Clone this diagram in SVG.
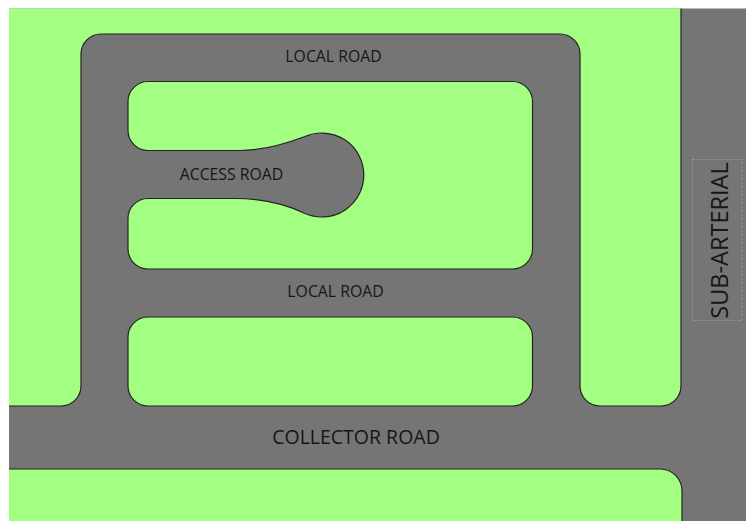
<svg xmlns="http://www.w3.org/2000/svg" width="746" height="521" viewBox="0 0 746 521">
<style>
.block{fill:#a3ff82;stroke:#222;stroke-width:1.2}
.label{font-family:"Open Sans",sans-serif;fill:#161616;text-anchor:middle}
.s{font-size:15.8px}
.l{font-size:19.5px}
.v{font-size:23.5px}
</style>
<defs><clipPath id="c"><rect x="9" y="8.500" width="737" height="512.500"/></clipPath></defs>
<rect width="746" height="521" fill="#fff"/>
<g id="roads"><rect x="9" y="8.500" width="737" height="512.500" fill="#757575"/></g>
<g clip-path="url(#c)">
<path id="block-outer" class="block" d="M0 406H61A20 20 0 0 0 81 386V54A20 20 0 0 1 101 34H560A20 20 0 0 1 580 54V386A20 20 0 0 0 600 406H661A20 20 0 0 0 681 386V0H0Z"/>
<path id="block-inner" class="block" d="M148 81.500H512.500A20 20 0 0 1 532.500 101.500V249A20 20 0 0 1 512.500 269H148A20 20 0 0 1 128 249V218.500A20 20 0 0 1 148 198.500H235C262 198.500 285 204 305 213.500A42 42 0 1 0 305 136.500C285 144 262 150.500 240 150.500H148A20 20 0 0 1 128 130.500V101.500A20 20 0 0 1 148 81.500Z"/>
<rect id="block-lower" class="block" x="128" y="317" width="404.500" height="89" rx="20" ry="20"/>
<path id="block-south" class="block" d="M0 469H660A22 22 0 0 1 682 491V530H0Z"/>
</g>
<g id="labels">
<text class="label s" x="333.500" y="61.500">LOCAL ROAD</text>
<text class="label s" x="231.500" y="179.500">ACCESS ROAD</text>
<text class="label s" x="335.500" y="297">LOCAL ROAD</text>
<text class="label l" x="356" y="444">COLLECTOR ROAD</text>
<rect x="692.500" y="159.500" width="49.500" height="161" fill="none" stroke="#9a9a9a" stroke-width="1" stroke-dasharray="2 2"/>
<text class="label v" transform="translate(728 240.500) rotate(-90)">SUB-ARTERIAL</text>
</g>
</svg>
